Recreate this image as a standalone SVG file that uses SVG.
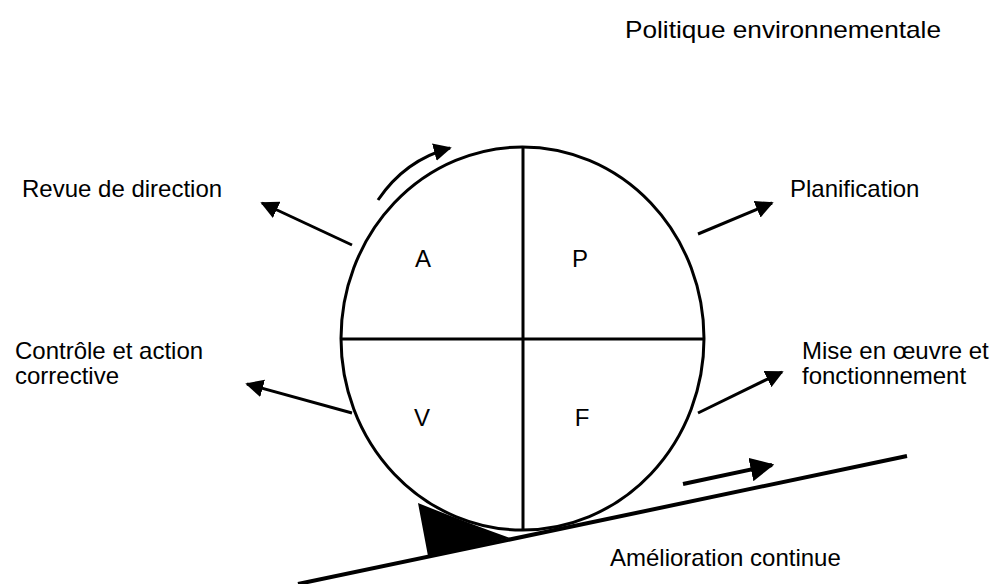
<svg xmlns="http://www.w3.org/2000/svg" width="1000" height="584" viewBox="0 0 1000 584">
<style>
text{font-family:"Liberation Sans",Arial,sans-serif;font-size:24px;fill:#000}
.ln{stroke:#000;fill:none;stroke-width:3}
</style>
<defs>
<marker id="ah2" viewBox="0 0 10 10" refX="9" refY="5" markerWidth="6" markerHeight="6" orient="auto">
<path d="M0,0 L10,5 L0,10 z" fill="#000"/>
</marker>
</defs>
<rect width="1000" height="584" fill="#fff"/>
<g id="wheel">
<ellipse cx="522.5" cy="338.5" rx="181.5" ry="191.5" class="ln"/>
<line x1="523" y1="147" x2="523" y2="530" class="ln"/>
<line x1="341" y1="339" x2="704" y2="339" class="ln"/>
<text x="423" y="267" text-anchor="middle">A</text>
<text x="580" y="267" text-anchor="middle">P</text>
<text x="422" y="426" text-anchor="middle">V</text>
<text x="582" y="426" text-anchor="middle">F</text>
</g>
<g id="slope">
<line x1="298" y1="584" x2="907" y2="456" stroke="#000" stroke-width="4"/>
<path d="M418,503 Q460,520 510,538 L428,556 Z" fill="#000"/>
</g>
<g id="labels">
<text x="625" y="38" textLength="316" lengthAdjust="spacingAndGlyphs">Politique environnementale</text>
<text x="22" y="197">Revue de direction</text>
<text x="790" y="197">Planification</text>
<text x="15" y="359">Contrôle et action</text>
<text x="15" y="384">corrective</text>
<text x="802" y="359">Mise en œuvre et</text>
<text x="802" y="384">fonctionnement</text>
<text x="610" y="566">Amélioration continue</text>
</g>
<g id="connectors">
<path d="M378,200 Q405,160 450,148" class="ln" marker-end="url(#ah2)"/>
<line x1="352" y1="245" x2="262" y2="203" class="ln" marker-end="url(#ah2)"/>
<line x1="698" y1="234" x2="772" y2="203" class="ln" marker-end="url(#ah2)"/>
<line x1="352" y1="413" x2="247" y2="384" class="ln" marker-end="url(#ah2)"/>
<line x1="698" y1="413" x2="782" y2="372" class="ln" marker-end="url(#ah2)"/>
<line x1="683" y1="484" x2="772" y2="465" stroke="#000" stroke-width="4" marker-end="url(#ah2)"/>
</g>
</svg>
